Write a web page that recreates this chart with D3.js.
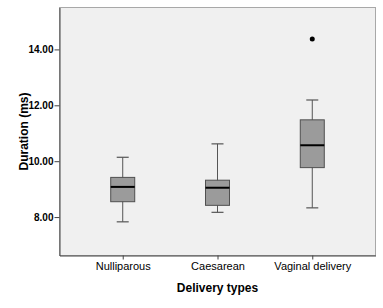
<!DOCTYPE html>
<html>
<head>
<meta charset="utf-8">
<script src="https://cdn.jsdelivr.net/npm/d3@7"></script>
<style>
  body { margin: 0; padding: 0; background: #fff; }
  text { font-family: "Liberation Sans", Arial, sans-serif; }
</style>
</head>
<body>
<div id="main"></div>
<script>
// box plot summaries
const categories = ['Nulliparous', 'Caesarean', 'Vaginal delivery'];
const whiskerLow = [7.83, 8.17, 8.33];
const q1 = [8.55, 8.42, 9.77];
const median = [9.08, 9.05, 10.57];
const q3 = [9.42, 9.32, 11.48];
const whiskerHigh = [10.14, 10.62, 12.19];
const outliers = [[], [], [14.37]];
const yTicks = [8, 10, 12, 14];

const WIDTH = 383, HEIGHT = 308;
const LEFT = 59.5, RIGHT = 375.5, TOP = 7.5, BOTTOM = 255.5;
const BOXW = 24, CAPW = 12;

const data = categories.map((c, i) => ({
    cat: c, lo: whiskerLow[i], q1: q1[i], med: median[i], q3: q3[i], hi: whiskerHigh[i], out: outliers[i]
}));

const svg = d3.select('#main').append('svg')
    .attr('width', WIDTH)
    .attr('height', HEIGHT);

const scaleX = d3.scalePoint().domain(categories).range([LEFT, RIGHT]).padding(0.667);
const scaleY = d3.scaleLinear().domain([6.625, 15.5]).range([BOTTOM, TOP]);

// plot background + light frame
svg.append('rect')
    .attr('x', LEFT).attr('y', TOP)
    .attr('width', RIGHT - LEFT).attr('height', BOTTOM - TOP)
    .attr('fill', '#f0f0f0')
    .attr('stroke', '#a8a8a8');

const boxes = svg.selectAll('g.box').data(data).enter().append('g').attr('class', 'box');
boxes.append('line')
    .attr('x1', d => scaleX(d.cat)).attr('x2', d => scaleX(d.cat))
    .attr('y1', d => scaleY(d.lo)).attr('y2', d => scaleY(d.hi))
    .attr('stroke', '#555').attr('stroke-width', 1);
boxes.append('line')
    .attr('x1', d => scaleX(d.cat) - CAPW / 2).attr('x2', d => scaleX(d.cat) + CAPW / 2)
    .attr('y1', d => scaleY(d.hi)).attr('y2', d => scaleY(d.hi))
    .attr('stroke', '#555').attr('stroke-width', 1.2);
boxes.append('line')
    .attr('x1', d => scaleX(d.cat) - CAPW / 2).attr('x2', d => scaleX(d.cat) + CAPW / 2)
    .attr('y1', d => scaleY(d.lo)).attr('y2', d => scaleY(d.lo))
    .attr('stroke', '#555').attr('stroke-width', 1.2);
boxes.append('rect')
    .attr('x', d => scaleX(d.cat) - BOXW / 2)
    .attr('y', d => scaleY(d.q3))
    .attr('width', BOXW)
    .attr('height', d => scaleY(d.q1) - scaleY(d.q3))
    .attr('fill', '#9b9b9b')
    .attr('stroke', '#505050').attr('stroke-width', 1);
boxes.append('line')
    .attr('x1', d => scaleX(d.cat) - BOXW / 2).attr('x2', d => scaleX(d.cat) + BOXW / 2)
    .attr('y1', d => scaleY(d.med)).attr('y2', d => scaleY(d.med))
    .attr('stroke', '#000').attr('stroke-width', 2);
boxes.selectAll('circle').data(d => d.out.map(v => ({cat: d.cat, v: v}))).enter().append('circle')
    .attr('cx', d => scaleX(d.cat)).attr('cy', d => scaleY(d.v))
    .attr('r', 2.5).attr('fill', '#000');

// axes
const axisY = d3.axisLeft(scaleY).tickValues(yTicks).tickFormat(d3.format('.2f')).tickSize(5).tickSizeOuter(0);
const gy = svg.append('g').attr('transform', `translate(${LEFT},0)`).call(axisY);
gy.select('.domain').attr('stroke', '#444');
gy.selectAll('.tick line').attr('stroke', '#444');
gy.selectAll('.tick text')
    .attr('x', -6)
    .attr('fill', '#000')
    .style('font-size', '10px').style('font-weight', 'bold')
    .style('font-family', '"Liberation Sans", Arial, sans-serif');

const axisX = d3.axisBottom(scaleX).tickSize(4).tickSizeOuter(0);
const gx = svg.append('g').attr('transform', `translate(0,${BOTTOM})`).call(axisX);
gx.select('.domain').attr('stroke', '#444');
gx.selectAll('.tick line').attr('stroke', '#444');
gx.selectAll('.tick text')
    .attr('y', 7)
    .attr('fill', '#000')
    .style('font-size', '11px')
    .style('font-family', '"Liberation Sans", Arial, sans-serif');

// axis titles
svg.append('text')
    .text('Delivery types')
    .attr('x', (LEFT + RIGHT) / 2)
    .attr('y', 292)
    .attr('text-anchor', 'middle')
    .style('font-size', '12px').style('font-weight', 'bold');
svg.append('text')
    .text('Duration (ms)')
    .attr('transform', `translate(28,${(TOP + BOTTOM) / 2}) rotate(-90)`)
    .attr('text-anchor', 'middle')
    .style('font-size', '12px').style('font-weight', 'bold');
</script>
</body>
</html>
